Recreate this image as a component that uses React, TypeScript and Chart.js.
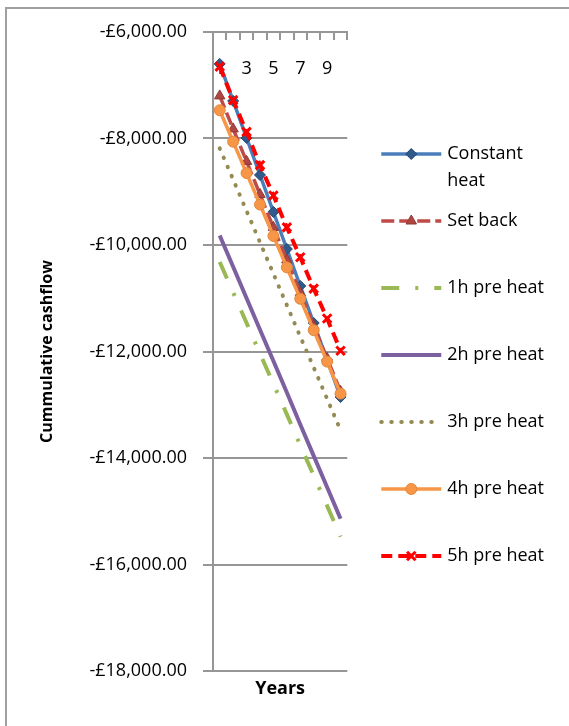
import React, { useEffect, useRef } from 'react';
import { Chart, registerables } from 'chart.js';
import { drawPoint } from 'chart.js/helpers';

Chart.register(...registerables);

const FONT = "'Open Sans', 'Noto Sans', sans-serif";
const GRID = '#969696';

const years = ['1', '2', '3', '4', '5', '6', '7', '8', '9', '10'];
const xTickLabels = ['1', '', '3', '', '5', '', '7', '', '9', ''];
const yTickValues = [-18000, -16000, -14000, -12000, -10000, -8000, -6000];

const constantHeat = [-6600, -7295, -7990, -8685, -9380, -10075, -10770, -11465, -12160, -12855];
const setBack = [-7200, -7820, -8430, -9050, -9670, -10280, -10900, -11520, -12130, -12750];
const preHeat1h = [-10320, -10890, -11465, -12040, -12610, -13180, -13760, -14330, -14900, -15480];
const preHeat2h = [-9820, -10410, -11000, -11590, -12180, -12770, -13370, -13960, -14550, -15140];
const preHeat3h = [-8185, -8770, -9360, -9950, -10540, -11130, -11720, -12300, -12890, -13480];
const preHeat4h = [-7470, -8060, -8650, -9240, -9830, -10420, -11010, -11600, -12190, -12790];
const preHeat5h = [-6650, -7280, -7875, -8500, -9070, -9670, -10230, -10820, -11380, -11985];

const seriesNames = ['Constant heat', 'Set back', '1h pre heat', '2h pre heat', '3h pre heat', '4h pre heat', '5h pre heat'];
const legendLines = [['Constant', 'heat'], ['Set back', ''], ['1h pre heat', ''], ['2h pre heat', ''], ['3h pre heat', ''], ['4h pre heat', ''], ['5h pre heat', '']];

function formatMoney(v: number): string {
  const abs = Math.abs(v);
  const whole = Math.floor(abs).toString().replace(/\B(?=(\d{3})+(?!\d))/g, ',');
  return (v < 0 ? '-' : '') + '£' + whole + '.00';
}

const legendSamples = {
  id: 'legendSamples',
  afterDraw(chart: any) {
    const legend = chart.legend;
    if (!legend || !legend.legendHitBoxes) return;
    const ctx = chart.ctx;
    legend.legendHitBoxes.forEach((hb: any, i: number) => {
      const ds: any = chart.data.datasets[i];
      if (!ds) return;
      const y = hb.top + 9;
      const x0 = hb.left;
      const x1 = x0 + 60;
      ctx.save();
      ctx.strokeStyle = ds.borderColor;
      ctx.lineWidth = ds.borderWidth;
      ctx.setLineDash(ds.borderDash || []);
      ctx.lineCap = ds.borderCapStyle || 'butt';
      ctx.beginPath();
      ctx.moveTo(x0, y);
      ctx.lineTo(x1, y);
      ctx.stroke();
      if (ds.pointRadius > 0) {
        ctx.setLineDash([]);
        ctx.lineCap = 'butt';
        ctx.fillStyle = ds.pointBackgroundColor;
        ctx.strokeStyle = ds.pointBorderColor;
        ctx.lineWidth = ds.pointBorderWidth;
        drawPoint(ctx, { pointStyle: ds.pointStyle, radius: ds.pointRadius, borderWidth: ds.pointBorderWidth, rotation: 0 } as any, (x0 + x1) / 2, y);
      }
      ctx.restore();
    });
  },
};

export default function App() {
  const ref = useRef<HTMLCanvasElement | null>(null);

  useEffect(() => {
    if (!ref.current) return;
    Chart.defaults.font.family = FONT;
    const base = { tension: 0, fill: false };
    const chart = new Chart(ref.current, {
      type: 'line',
      data: {
        labels: years,
        datasets: [
          { ...base, label: seriesNames[0], data: constantHeat, borderColor: '#4A7EBB', backgroundColor: '#4A7EBB', borderWidth: 3.5, pointStyle: 'rectRot', pointRadius: 5.5, pointBackgroundColor: '#2F5A8C', pointBorderColor: '#26466E', pointBorderWidth: 1, order: 7 },
          { ...base, label: seriesNames[1], data: setBack, borderColor: '#BE4B48', backgroundColor: '#BE4B48', borderWidth: 3.5, borderDash: [13, 5], pointStyle: 'triangle', pointRadius: 6, pointBackgroundColor: '#B04542', pointBorderColor: '#8C3836', pointBorderWidth: 1, order: 6 },
          { ...base, label: seriesNames[2], data: preHeat1h, borderColor: '#98B954', backgroundColor: '#98B954', borderWidth: 4, borderDash: [18, 16, 3, 16], pointRadius: 0, pointBorderWidth: 0, order: 5 },
          { ...base, label: seriesNames[3], data: preHeat2h, borderColor: '#7D60A0', backgroundColor: '#7D60A0', borderWidth: 4, pointRadius: 0, pointBorderWidth: 0, order: 4 },
          { ...base, label: seriesNames[4], data: preHeat3h, borderColor: '#948A54', backgroundColor: '#948A54', borderWidth: 4, borderDash: [0.5, 9.5], borderCapStyle: 'round', pointRadius: 0, pointBorderWidth: 0, order: 3 },
          { ...base, label: seriesNames[5], data: preHeat4h, borderColor: '#F79646', backgroundColor: '#F79646', borderWidth: 3.5, pointStyle: 'circle', pointRadius: 5.5, pointBackgroundColor: '#F79646', pointBorderColor: '#E4873D', pointBorderWidth: 1, order: 2 },
          { ...base, label: seriesNames[6], data: preHeat5h, borderColor: '#FF0000', backgroundColor: '#FF0000', borderWidth: 4, borderDash: [11, 6], pointStyle: 'crossRot', pointRadius: 6, pointBackgroundColor: '#FF0000', pointBorderColor: '#FF0000', pointBorderWidth: 3, order: 1 },
        ] as any,
      },
      options: {
        responsive: false,
        animation: false,
        layout: { padding: { left: 0, top: 20, right: 15, bottom: 0 } },
        plugins: {
          tooltip: { enabled: false },
          legend: {
            position: 'right',
            align: 'center',
            maxWidth: 400,
            labels: {
              boxWidth: 57,
              boxHeight: 0,
              padding: 13,
              color: '#000',
              font: { family: FONT, size: 18, lineHeight: 1.5 },
              generateLabels: (c: any) =>
                c.data.datasets.map((_ds: any, i: number) => ({
                  text: legendLines[i],
                  fillStyle: 'rgba(0,0,0,0)',
                  strokeStyle: 'rgba(0,0,0,0)',
                  lineWidth: 0,
                  hidden: false,
                  datasetIndex: i,
                  fontColor: '#000',
                })),
            },
          },
        },
        scales: {
          x: {
            type: 'category',
            position: 'top',
            offset: true,
            grid: { display: true, drawOnChartArea: false, drawTicks: true, tickLength: -8, color: GRID, lineWidth: 2, offset: true },
            border: { display: true, color: GRID, width: 2 },
            ticks: {
              autoSkip: false,
              maxRotation: 0,
              minRotation: 0,
              mirror: true,
              padding: 26,
              color: '#000',
              font: { family: FONT, size: 18 },
              callback: (_v: any, i: number) => xTickLabels[i],
            },
            afterFit: (s: any) => { s.height = 12; },
          },
          xb: {
            type: 'category',
            position: 'bottom',
            offset: true,
            grid: { display: false },
            border: { display: false },
            ticks: { display: false },
            title: { display: true, text: 'Years', color: '#000', font: { family: FONT, size: 18, weight: 'bold' }, padding: { top: 0, bottom: 26 } },
            afterFit: (s: any) => { s.height = 55; },
          },
          y: {
            type: 'linear',
            position: 'left',
            min: -18000,
            max: -6000,
            afterBuildTicks: (s: any) => { s.ticks = yTickValues.map((v) => ({ value: v })); },
            ticks: { padding: 16, color: '#000', font: { family: FONT, size: 18 }, callback: (v: any) => formatMoney(Number(v)) },
            grid: { color: GRID, lineWidth: 2, tickLength: 10, drawTicks: true },
            border: { display: true, color: GRID, width: 2 },
            title: { display: true, text: 'Cummulative cashflow', color: '#000', font: { family: FONT, size: 16, weight: 'bold' }, padding: { top: 38, bottom: 0 } },
            afterFit: (s: any) => { s.width = 213; },
          },
          yr: {
            type: 'linear',
            position: 'right',
            display: true,
            grid: { display: false },
            border: { display: false },
            ticks: { display: false },
            afterFit: (s: any) => { s.width = 21; },
          },
        } as any,
      },
      plugins: [legendSamples],
    } as any);
    return () => chart.destroy();
  }, []);

  return (
    <div style={{ position: 'fixed', left: 0, top: 0, width: 569, height: 726, overflow: 'hidden', background: '#fff' }}>
      <div style={{ position: 'absolute', left: 5, top: 7, width: 700, height: 900, border: '2px solid #a0a0a0', boxSizing: 'border-box' }} />
      <canvas ref={ref} width={569} height={726} style={{ position: 'absolute', left: 0, top: 0, display: 'block' }} />
    </div>
  );
}
